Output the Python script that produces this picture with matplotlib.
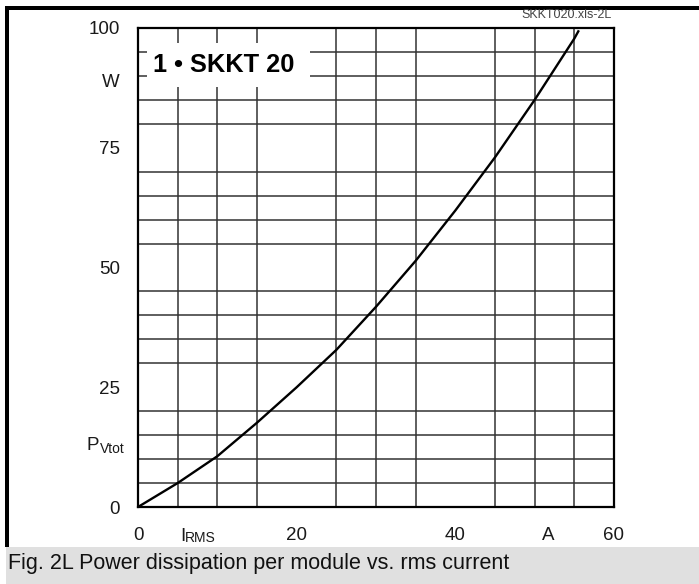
import matplotlib
matplotlib.use("Agg")
import matplotlib.pyplot as plt
from matplotlib.ticker import MultipleLocator
from matplotlib.patches import Rectangle

# Data
current_A = [0, 5, 10, 15, 20, 25, 30, 35, 40, 45, 50, 55, 55.5]
power_W = [0, 5.0, 10.6, 17.6, 25.0, 32.8, 41.8, 51.4, 61.9, 73.0, 85.0, 97.8, 99.3]

x_tick_pos = [0, 20, 40, 51.7, 60]
x_tick_labels = ["0", "20", "40", "A", "60"]
y_tick_pos = [0, 25, 50, 75, 89, 100]
y_tick_labels = ["0", "25", "50", "75", "W", "100"]

title_text = "1 \u2022 SKKT 20"
file_tag = "SKKT020.xls-2L"
caption = "Fig. 2L Power dissipation per module vs. rms current"

plt.rcParams['font.family'] = ['Liberation Sans', 'DejaVu Sans']

W, H = 699, 584


def fx(px):
    return px / W


def fy(py):
    return 1 - py / H


fig = plt.figure(figsize=(W / 100, H / 100), dpi=100)
ax = fig.add_axes([fx(138), fy(507), (614 - 138) / W, (507 - 28) / H])

ax.set_xlim(0, 60)
ax.set_ylim(0, 100)
ax.xaxis.set_minor_locator(MultipleLocator(5))
ax.yaxis.set_minor_locator(MultipleLocator(5))
ax.grid(which='minor', color='#333333', linewidth=1.1)
ax.grid(which='major', visible=False)
ax.set_axisbelow(True)

ax.set_xticks(x_tick_pos)
ax.set_xticklabels(x_tick_labels)
ax.set_yticks(y_tick_pos)
ax.set_yticklabels(y_tick_labels)
ax.tick_params(which='both', length=0)
ax.tick_params(axis='x', labelsize=13.5, pad=14.5, colors='#1a1a1a')
ax.tick_params(axis='y', labelsize=13.5, pad=13, colors='#1a1a1a')

for s in ax.spines.values():
    s.set_linewidth(1.6)
    s.set_color('black')

ax.plot(current_A, power_W, color='black', linewidth=1.7, zorder=5)

# white box behind the title
ax.add_patch(Rectangle(((147 - 138) / 476, (507 - 87) / 479),
                       (310 - 147) / 476, (87 - 43) / 479,
                       transform=ax.transAxes, facecolor='white',
                       edgecolor='none', zorder=3))
ax.text((153 - 138) / 476, (507 - 65) / 479, title_text, transform=ax.transAxes,
        fontsize=18.3, fontweight='bold', ha='left', va='center', zorder=4)

# axis quantity labels with small subscripts
fig.text(fx(180), fy(541), "I", fontsize=13.5, color='#1a1a1a', va='baseline')
fig.text(fx(185), fy(542), "RMS", fontsize=10, color='#1a1a1a', va='baseline')
fig.text(fx(86.5), fy(450), "P", fontsize=13.5, color='#1a1a1a', va='baseline')
fig.text(fx(100), fy(453), "Vtot", fontsize=10, color='#1a1a1a', va='baseline')

# file tag
fig.text(fx(612), fy(15.5), file_tag, fontsize=9, color='#444444',
         ha='right', va='center')

# outer frame (top and left)
fig.add_artist(Rectangle((fx(5), fy(10)), (W - 5) / W, 3.5 / H,
                         transform=fig.transFigure, facecolor='black',
                         edgecolor='none'))
fig.add_artist(Rectangle((fx(5), fy(547)), 4 / W, (547 - 7) / H,
                         transform=fig.transFigure, facecolor='black',
                         edgecolor='none'))
# caption bar
fig.add_artist(Rectangle((fx(6), 0), (W - 6) / W, (584 - 547) / H,
                         transform=fig.transFigure, facecolor='#e0e0e0',
                         edgecolor='none'))
fig.text(fx(8), fy(563), caption, fontsize=15.5, color='#111111',
         ha='left', va='center')

fig.savefig("out.png", dpi=100)
